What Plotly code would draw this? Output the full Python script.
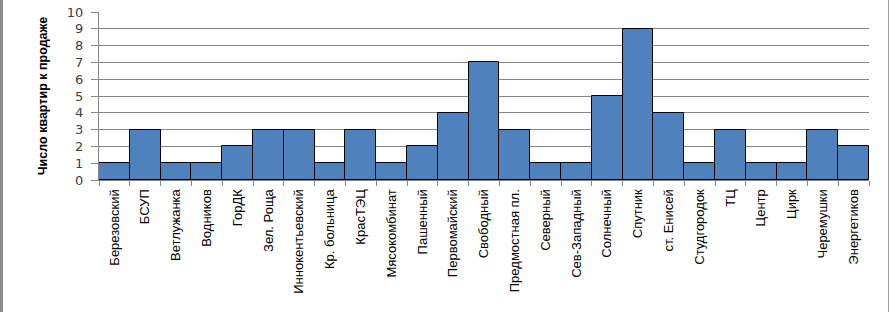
import plotly.graph_objects as go

categories = ["Березовский", "БСУП", "Ветлужанка", "Водников", "ГорДК", "Зел. Роща",
              "Иннокентьевский", "Кр. больница", "КрасТЭЦ", "Мясокомбинат", "Пашенный",
              "Первомайский", "Свободный", "Предмостная пл.", "Северный", "Сев-Западный",
              "Солнечный", "Спутник", "ст. Енисей", "Студгородок", "ТЦ", "Центр", "Цирк",
              "Черемушки", "Энергетиков"]
values = [1, 3, 1, 1, 2, 3, 3, 1, 3, 1, 2, 4, 7, 3, 1, 1, 5, 9, 4, 1, 3, 1, 1, 3, 2]
y_ticks = list(range(0, 11))
y_title = "Число квартир к продаже"

W, H = 890, 312
ML, MR, MT, MB = 99, 21, 12, 132
sans = "Liberation Sans, Arial, sans-serif"

fig = go.Figure(go.Bar(
    x=categories, y=values,
    marker=dict(color="#4F81BD", line=dict(color="#000000", width=1)),
))

pw = W - ML - MR
ph = H - MT - MB
fig.update_layout(
    width=W, height=H,
    margin=dict(l=ML, r=MR, t=MT, b=MB, pad=0),
    paper_bgcolor="white", plot_bgcolor="white",
    bargap=0, showlegend=False,
    xaxis=dict(
        automargin=False,
        tickangle=-90, tickson="boundaries", ticks="outside", ticklen=5,
        ticklabelstandoff=3,
        tickcolor="#868686", showline=True, linecolor="#868686", linewidth=1,
        tickfont=dict(family=sans, size=13, color="#000000"),
        showgrid=False, zeroline=False,
    ),
    yaxis=dict(
        automargin=False,
        range=[0, 10], tickvals=y_ticks, ticks="outside", ticklen=7,
        ticklabelstandoff=5,
        tickcolor="#868686", showline=True, linecolor="#868686", linewidth=1,
        showgrid=True, gridcolor="#868686", gridwidth=1, zeroline=False,
        tickfont=dict(family="DejaVu Sans, sans-serif", size=13, color="#404040"),
        title=dict(text="<b>" + y_title + "</b>", standoff=16,
                   font=dict(family=sans, size=12.5, color="#000000")),
    ),
    shapes=[
        dict(type="line", xref="paper", yref="paper", layer="above",
             x0=(888.5 - ML) / pw, x1=(888.5 - ML) / pw,
             y0=-MB / ph, y1=(ph + MT) / ph,
             line=dict(color="#a0a0a0", width=1)),
    ],
)

post = (
    "document.body.style.margin='0';document.body.style.overflow='hidden';"
    "var b=document.createElement('div');"
    "b.style.cssText='position:absolute;left:0;top:0;width:3px;height:312px;"
    "background:#8c8c8c;z-index:1000;pointer-events:none;';"
    "document.body.appendChild(b);"
)
fig.write_html("out.html", config={"displayModeBar": False}, post_script=post)
